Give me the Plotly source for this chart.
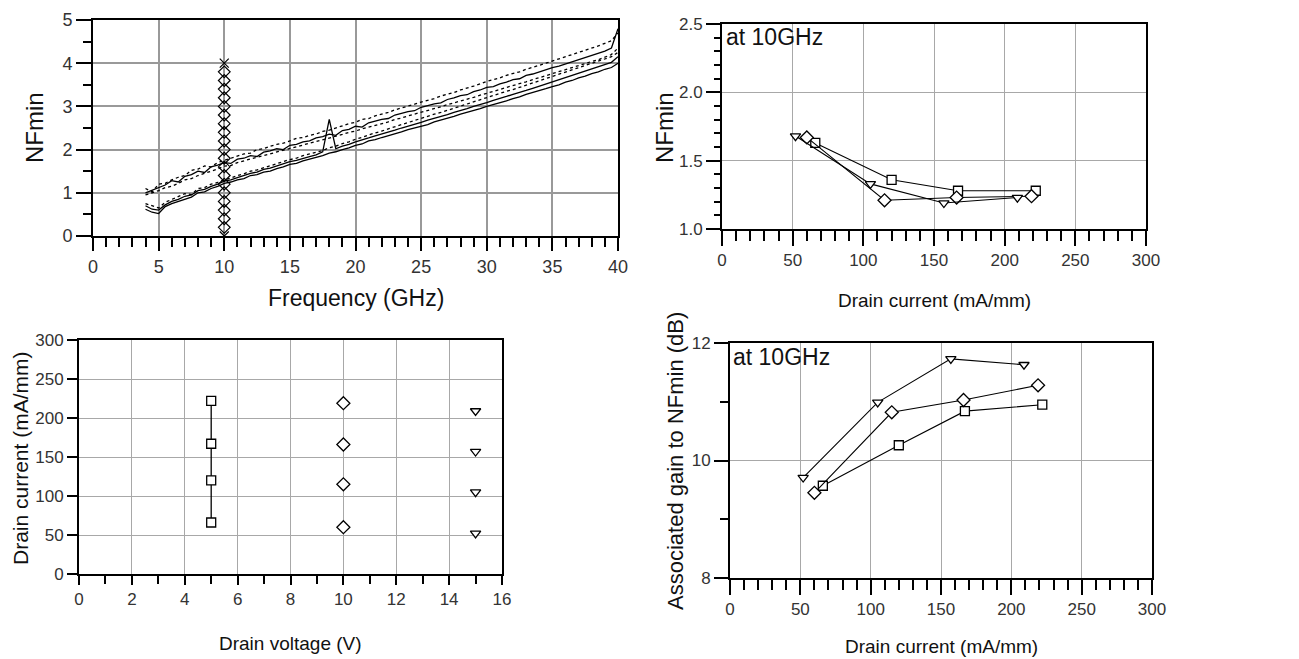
import plotly.graph_objects as go

# ---------------- data ----------------
FREQ = [4.0, 4.5, 5.0, 5.5, 6.0, 6.5, 7.0, 7.5, 8.0, 8.5, 9.0, 9.5, 10.0, 10.5, 11.0, 11.5,
        12.0, 12.5, 13.0, 13.5, 14.0, 14.5, 15.0, 15.5, 16.0, 16.5, 17.0, 17.5, 18.0, 18.5,
        19.0, 19.5, 20.0, 20.5, 21.0, 21.5, 22.0, 22.5, 23.0, 23.5, 24.0, 24.5, 25.0, 25.5,
        26.0, 26.5, 27.0, 27.5, 28.0, 28.5, 29.0, 29.5, 30.0, 30.5, 31.0, 31.5, 32.0, 32.5,
        33.0, 33.5, 34.0, 34.5, 35.0, 35.5, 36.0, 36.5, 37.0, 37.5, 38.0, 38.5, 39.0, 39.5, 40.0]

NF_U1 = [1.00, 1.06, 1.12, 1.18, 1.28, 1.25, 1.38, 1.42, 1.50, 1.47, 1.60, 1.64, 1.70, 1.68, 1.78, 1.80,
         1.86, 1.84, 1.94, 1.97, 2.02, 2.00, 2.10, 2.12, 2.18, 2.20, 2.27, 2.30, 2.36, 2.33,
         2.44, 2.47, 2.54, 2.52, 2.62, 2.66, 2.70, 2.72, 2.80, 2.84, 2.88, 2.90, 2.98, 3.02,
         3.06, 3.08, 3.16, 3.20, 3.25, 3.27, 3.34, 3.38, 3.44, 3.46, 3.52, 3.56, 3.62, 3.64,
         3.72, 3.75, 3.80, 3.84, 3.90, 3.93, 3.98, 4.02, 4.08, 4.12, 4.18, 4.22, 4.28, 4.35, 4.80]

NF_U2 = [0.95, 1.00, 1.05, 1.12, 1.15, 1.22, 1.30, 1.33, 1.40, 1.45, 1.50, 1.55, 1.62, 1.63, 1.70, 1.74,
         1.78, 1.82, 1.86, 1.90, 1.95, 1.98, 2.03, 2.06, 2.10, 2.15, 2.18, 2.22, 2.27, 2.30,
         2.35, 2.40, 2.43, 2.48, 2.52, 2.56, 2.61, 2.64, 2.70, 2.73, 2.78, 2.82, 2.86, 2.91,
         2.95, 2.99, 3.04, 3.08, 3.12, 3.17, 3.21, 3.26, 3.30, 3.35, 3.39, 3.44, 3.48, 3.53,
         3.57, 3.62, 3.66, 3.71, 3.76, 3.80, 3.85, 3.90, 3.94, 3.99, 4.04, 4.08, 4.14, 4.20, 4.35]

NF_U3 = [1.10, 1.02, 1.20, 1.22, 1.30, 1.36, 1.40, 1.52, 1.55, 1.62, 1.60, 1.70, 1.75, 1.80, 1.84, 1.90,
         1.92, 2.00, 2.02, 2.08, 2.12, 2.15, 2.20, 2.26, 2.28, 2.33, 2.36, 2.42, 2.45, 2.50,
         2.55, 2.60, 2.63, 2.70, 2.72, 2.78, 2.82, 2.86, 2.92, 2.96, 3.00, 3.05, 3.10, 3.14,
         3.18, 3.24, 3.28, 3.32, 3.38, 3.42, 3.47, 3.52, 3.58, 3.62, 3.66, 3.72, 3.76, 3.80,
         3.86, 3.90, 3.95, 4.00, 4.05, 4.10, 4.14, 4.20, 4.25, 4.30, 4.35, 4.40, 4.46, 4.52, 4.70]

NF_L1 = [0.62, 0.55, 0.52, 0.68, 0.75, 0.80, 0.86, 0.90, 1.00, 1.02, 1.10, 1.15, 1.22, 1.25, 1.30, 1.33,
         1.40, 1.42, 1.48, 1.50, 1.56, 1.60, 1.66, 1.68, 1.74, 1.78, 1.82, 1.86, 1.92, 1.95,
         2.00, 2.04, 2.10, 2.13, 2.20, 2.23, 2.28, 2.32, 2.37, 2.41, 2.46, 2.50, 2.55, 2.58,
         2.64, 2.68, 2.73, 2.77, 2.82, 2.86, 2.91, 2.95, 3.00, 3.04, 3.09, 3.13, 3.18, 3.22,
         3.28, 3.32, 3.37, 3.41, 3.46, 3.50, 3.56, 3.60, 3.66, 3.70, 3.76, 3.80, 3.86, 3.90, 4.00]

NF_L2 = [0.70, 0.62, 0.60, 0.72, 0.80, 0.85, 0.92, 0.95, 1.05, 1.08, 1.15, 1.20, 1.27, 1.30, 1.35, 1.40,
         1.45, 1.48, 1.54, 1.57, 1.62, 1.66, 1.72, 1.75, 1.80, 1.84, 1.88, 1.95, 2.70, 2.02,
         2.08, 2.12, 2.18, 2.22, 2.27, 2.32, 2.36, 2.40, 2.45, 2.50, 2.54, 2.58, 2.63, 2.68,
         2.72, 2.77, 2.81, 2.86, 2.90, 2.95, 3.00, 3.04, 3.09, 3.14, 3.18, 3.23, 3.28, 3.32,
         3.37, 3.42, 3.47, 3.52, 3.56, 3.61, 3.66, 3.71, 3.76, 3.81, 3.86, 3.91, 3.96, 4.02, 4.15]

NF_L3 = [0.75, 0.70, 0.65, 0.78, 0.85, 0.92, 0.98, 0.96, 1.10, 1.12, 1.20, 1.24, 1.30, 1.34, 1.40, 1.44,
         1.50, 1.53, 1.58, 1.62, 1.68, 1.72, 1.77, 1.80, 1.86, 1.90, 1.94, 1.98, 2.04, 2.08,
         2.14, 2.18, 2.24, 2.28, 2.34, 2.38, 2.43, 2.48, 2.53, 2.58, 2.62, 2.67, 2.72, 2.77,
         2.82, 2.86, 2.91, 2.96, 3.01, 3.06, 3.11, 3.15, 3.20, 3.25, 3.30, 3.35, 3.39, 3.44,
         3.49, 3.54, 3.59, 3.64, 3.69, 3.74, 3.79, 3.84, 3.89, 3.94, 3.99, 4.04, 4.09, 4.15, 4.25]

MARKER_F = 10
MARKER_Y = [0.0, 0.2, 0.4, 0.6, 0.8, 1.0, 1.2, 1.4, 1.6, 1.8, 2.0, 2.2, 2.4, 2.6, 2.8, 3.0,
            3.2, 3.4, 3.6, 3.8, 4.0]

# bias points: drain current (mA/mm) for each drain voltage
VD = [5, 10, 15]
ID_5V = [66, 120, 167, 222]
ID_10V = [60, 115, 166, 219]
ID_15V = [52, 105, 157, 209]

# NFmin at 10 GHz
NF10_5V = [1.63, 1.36, 1.28, 1.28]
NF10_10V = [1.67, 1.21, 1.23, 1.24]
NF10_15V = [1.68, 1.33, 1.19, 1.23]

# associated gain at 10 GHz (dB)
GA_5V = [9.57, 10.26, 10.84, 10.95]
GA_10V = [9.45, 10.82, 11.03, 11.28]
GA_15V = [9.71, 10.99, 11.73, 11.63]

# ---------------- figure ----------------
OFF = 8                     # page body margin
W, H = 1299 - OFF, 659 - OFF
FONT = "Liberation Sans, Arial, sans-serif"


def tickfont(size):
    return dict(family=FONT, size=size, color="#333")


def titlefont(size):
    return dict(family=FONT, size=size, color="#111")


def px(x):
    return (x - OFF) / W


def py(y):
    return 1 - (y - OFF) / H


fig = go.Figure()

line_styles = [("solid", NF_U1), ("dot", NF_U2), ("dot", NF_U3),
               ("solid", NF_L1), ("solid", NF_L2), ("dot", NF_L3)]
for dash, ys in line_styles:
    fig.add_trace(go.Scatter(x=FREQ, y=ys, mode="lines", xaxis="x", yaxis="y",
                             line=dict(color="black", width=1.3, dash=dash),
                             showlegend=False, hoverinfo="skip"))

msyms = ["x-thin-open"] + ["diamond-open"] * (len(MARKER_Y) - 2) + ["x-thin-open"]
fig.add_trace(go.Scatter(x=[MARKER_F] * len(MARKER_Y), y=MARKER_Y, mode="markers",
                         xaxis="x", yaxis="y",
                         marker=dict(symbol=msyms, size=9, color="black",
                                     line=dict(color="black", width=1.2)),
                         showlegend=False))

SYM = {"5": "square", "10": "diamond", "15": "triangle-down"}
SIZES = {"5": 9, "10": 10, "15": 9}


def mk(sym, size):
    return dict(symbol=sym, size=size, color="white", line=dict(color="black", width=1.3))


# top-right: NFmin vs drain current
for key, xs, ys in [("5", ID_5V, NF10_5V), ("10", ID_10V, NF10_10V), ("15", ID_15V, NF10_15V)]:
    fig.add_trace(go.Scatter(x=xs, y=ys, mode="lines+markers", xaxis="x2", yaxis="y2",
                             line=dict(color="black", width=1.1),
                             marker=mk(SYM[key], SIZES[key]), showlegend=False))

# bottom-left: drain current vs drain voltage
for key, v, ids, mode in [("5", VD[0], ID_5V, "lines+markers"),
                          ("10", VD[1], ID_10V, "markers"),
                          ("15", VD[2], ID_15V, "markers")]:
    fig.add_trace(go.Scatter(x=[v] * len(ids), y=ids, mode=mode, xaxis="x3", yaxis="y3",
                             line=dict(color="black", width=1.3),
                             marker=mk(SYM[key], SIZES[key]), showlegend=False))

# bottom-right: associated gain vs drain current
for key, xs, ys in [("5", ID_5V, GA_5V), ("10", ID_10V, GA_10V), ("15", ID_15V, GA_15V)]:
    fig.add_trace(go.Scatter(x=xs, y=ys, mode="lines+markers", xaxis="x4", yaxis="y4",
                             line=dict(color="black", width=1.1),
                             marker=mk(SYM[key], SIZES[key]), showlegend=False))


def axis(domain, rng, dtick, minor_dtick, anchor, grid_color="#a8a8a8", grid_w=1.3,
         ticklen=12, minor_len=8, tsize=16):
    d = dict(domain=domain, range=rng, dtick=dtick, anchor=anchor, automargin=False,
             showline=True, mirror=True, linecolor="black", linewidth=2,
             ticks="outside", ticklen=ticklen, tickwidth=1.5, tickcolor="black",
             showgrid=True, gridcolor=grid_color, gridwidth=grid_w,
             zeroline=False, tickfont=tickfont(tsize), fixedrange=True)
    if minor_dtick:
        d["minor"] = dict(dtick=minor_dtick, ticks="outside", ticklen=minor_len,
                          tickwidth=1.5, tickcolor="black", showgrid=False)
    return d


fig.update_layout(
    width=W, height=H, margin=dict(l=0, r=0, t=0, b=0, autoexpand=False),
    paper_bgcolor="white", plot_bgcolor="white",
    font=dict(family=FONT),
    xaxis=axis([px(93), px(618)], [0, 40], 5, 1, "y", grid_color="#999", grid_w=1.8,
               ticklen=13, minor_len=9, tsize=18),
    yaxis=axis([py(236), py(20)], [0, 5], 1, 0.5, "x", grid_color="#999", grid_w=1.8,
               ticklen=15, minor_len=8, tsize=18),
    xaxis2=axis([px(722), px(1146)], [0, 300], 50, 10, "y2", ticklen=15, minor_len=10, tsize=17),
    yaxis2=axis([py(229), py(24)], [1.0, 2.5], 0.5, 0.1, "x2", ticklen=14, minor_len=6, tsize=17),
    xaxis3=axis([px(79), px(502)], [0, 16], 2, 1, "y3", ticklen=9, minor_len=8, tsize=17),
    yaxis3=axis([py(574), py(340)], [0, 300], 50, None, "x3", ticklen=10, tsize=17),
    xaxis4=axis([px(730), px(1152)], [0, 300], 50, 10, "y4", ticklen=15, minor_len=10, tsize=17),
    yaxis4=axis([py(578), py(343)], [8, 12], 2, 1, "x4", ticklen=14, minor_len=8, tsize=17),
)
fig.update_layout(xaxis2_tickformat=".0f", yaxis2_tickformat=".1f")

annotations = [
    dict(text="NFmin", x=px(35), y=py(128), textangle=-90, size=24),
    dict(text="Frequency (GHz)", x=px(356), y=py(298), size=23),
    dict(text="NFmin", x=px(665), y=py(128), textangle=-90, size=24),
    dict(text="Drain current (mA/mm)", x=px(934), y=py(300), size=19),
    dict(text="Drain current (mA/mm)", x=px(20), y=py(458), textangle=-90, size=21),
    dict(text="Drain voltage (V)", x=px(290), y=py(643), size=19),
    dict(text="Associated gain to NFmin (dB)", x=px(675), y=py(461), textangle=-90, size=22),
    dict(text="Drain current (mA/mm)", x=px(941), y=py(646), size=19),
]
for a in annotations:
    size = a.pop("size")
    fig.add_annotation(xref="paper", yref="paper", showarrow=False,
                       xanchor="center", yanchor="middle",
                       font=titlefont(size), **a)

for x0, y0 in [(724, 37), (731, 357)]:
    fig.add_annotation(text="at 10GHz", xref="paper", yref="paper", x=px(x0), y=py(y0),
                       xanchor="left", yanchor="middle", showarrow=False,
                       font=dict(family=FONT, size=23, color="#111"))

fig.write_html("out.html")
